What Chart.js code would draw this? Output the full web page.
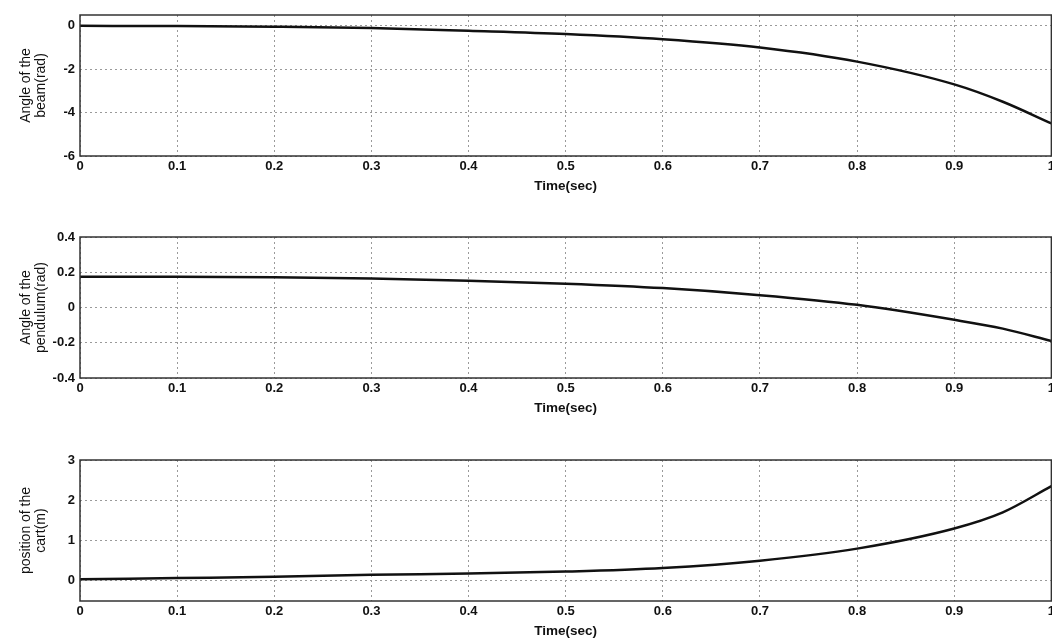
<!DOCTYPE html>
<html>
<head>
<meta charset="utf-8">
<script src="https://cdn.jsdelivr.net/npm/chart.js@4.4.0/dist/chart.umd.min.js"></script>
<style>
  html, body { margin: 0; padding: 0; background: #fff; overflow: hidden; }
  #wrap { position: relative; width: 1052px; height: 638px; overflow: hidden; }
  .panel { position: absolute; left: 0; width: 1058px; height: 200px; }
</style>
</head>
<body>
<div id="wrap">
  <div class="panel" style="top:0px"><canvas id="graficoViga"></canvas></div>
  <div class="panel" style="top:222px"><canvas id="graficoPendulo"></canvas></div>
  <div class="panel" style="top:445px"><canvas id="graficoCarro"></canvas></div>
</div>
<script>
// tempo (s)
const tempo = [0, 0.1, 0.2, 0.3, 0.4, 0.5, 0.6, 0.7, 0.8, 0.9, 0.95, 1.0];

// angulo da viga (rad)
const anguloViga = [0, -0.01, -0.04, -0.1, -0.23, -0.38, -0.62, -1.0, -1.65, -2.7, -3.5, -4.5];
// angulo do pendulo (rad)
const anguloPendulo = [0.175, 0.175, 0.172, 0.165, 0.152, 0.135, 0.11, 0.07, 0.015, -0.07, -0.12, -0.19];
// posicao do carro (m)
const posicaoCarro = [0.04, 0.07, 0.1, 0.15, 0.18, 0.23, 0.32, 0.5, 0.8, 1.3, 1.7, 2.35];

const ticksTempo = [0, 0.1, 0.2, 0.3, 0.4, 0.5, 0.6, 0.7, 0.8, 0.9, 1];
const ticksViga = [-6, -4, -2, 0];
const ticksPendulo = [-0.4, -0.2, 0, 0.2, 0.4];
const ticksCarro = [0, 1, 2, 3];

const fonte = 'Arial, "Liberation Sans", sans-serif';

// caixa em volta da area do grafico (estilo matlab)
const caixa = {
  id: 'caixa',
  afterDraw(chart) {
    const {ctx, chartArea: a} = chart;
    ctx.save();
    ctx.strokeStyle = '#333';
    ctx.lineWidth = 1.5;
    ctx.strokeRect(a.left, a.top, a.right - a.left, a.bottom - a.top);
    ctx.restore();
  }
};

function criaGrafico(id, valores, minY, maxY, ticksY, tituloY) {
  const pontos = tempo.map((t, i) => ({x: t, y: valores[i]}));
  return new Chart(document.getElementById(id), {
    type: 'line',
    data: {
      datasets: [{
        data: pontos,
        borderColor: '#111',
        borderWidth: 2.5,
        pointRadius: 0,
        cubicInterpolationMode: 'monotone',
        fill: false
      }]
    },
    options: {
      responsive: true,
      maintainAspectRatio: false,
      animation: false,
      layout: {padding: {top: 15, right: 0, left: 0, bottom: 0}},
      plugins: {legend: {display: false}, tooltip: {enabled: false}},
      scales: {
        x: {
          type: 'linear',
          min: 0,
          max: 1,
          afterBuildTicks: (s) => { s.ticks = ticksTempo.map(v => ({value: v})); },
          afterFit: (s) => { s.height = 44; },
          grid: {color: '#9a9a9a', drawTicks: false, lineWidth: 1},
          border: {display: false, dash: [2, 3]},
          ticks: {
            color: '#111',
            padding: 3,
            maxRotation: 0,
            autoSkip: false,
            font: {family: fonte, size: 13, weight: 'bold'},
            callback: (v) => String(Math.round(v * 10) / 10)
          },
          title: {
            display: true,
            text: 'Time(sec)',
            color: '#111',
            padding: {top: 0, bottom: 6},
            font: {family: fonte, size: 13.5, weight: 'bold'}
          }
        },
        y: {
          min: minY,
          max: maxY,
          afterBuildTicks: (s) => { s.ticks = ticksY.map(v => ({value: v})); },
          afterFit: (s) => { s.width = 80; },
          grid: {color: '#9a9a9a', drawTicks: false, lineWidth: 1},
          border: {display: false, dash: [2, 3]},
          ticks: {
            color: '#111',
            padding: 5,
            font: {family: fonte, size: 13, weight: 'bold'},
            callback: (v) => String(Math.round(v * 10) / 10)
          },
          title: {
            display: true,
            text: tituloY,
            color: '#111',
            padding: {top: 19, bottom: 0},
            font: {family: fonte, size: 14, lineHeight: 1.05}
          }
        }
      }
    },
    plugins: [caixa]
  });
}

criaGrafico('graficoViga', anguloViga, -6, 0.5, ticksViga, ['Angle of the', 'beam(rad)']);
criaGrafico('graficoPendulo', anguloPendulo, -0.4, 0.4, ticksPendulo, ['Angle of the', 'pendulum(rad)']);
criaGrafico('graficoCarro', posicaoCarro, -0.5, 3, ticksCarro, ['position of the', 'cart(m)']);
</script>
</body>
</html>
